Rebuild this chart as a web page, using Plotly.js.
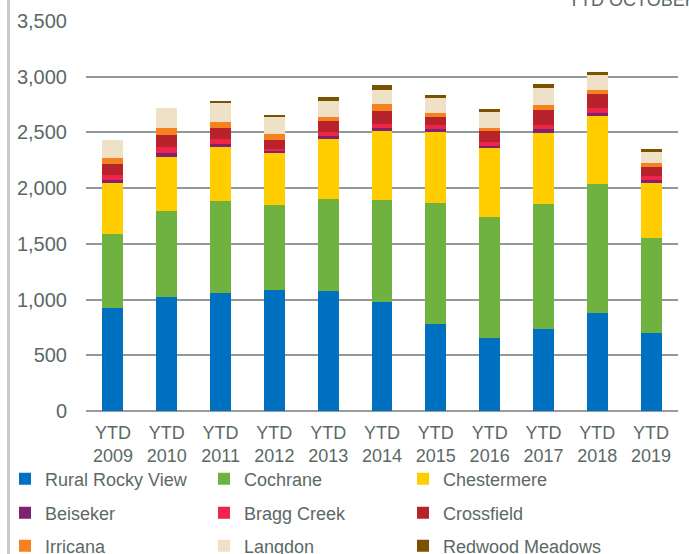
<!DOCTYPE html>
<html>
<head>
<meta charset="utf-8">
<script src="https://cdn.plot.ly/plotly-3.0.1.min.js"></script>
<style>html,body{margin:0;padding:0;background:#fff;}#chart{width:689px;height:554px;}</style>
</head>
<body>
<div id="chart"></div>
<script>
const categories = ["YTD<br>2009","YTD<br>2010","YTD<br>2011","YTD<br>2012","YTD<br>2013","YTD<br>2014","YTD<br>2015","YTD<br>2016","YTD<br>2017","YTD<br>2018","YTD<br>2019"];
const ruralRockyView = [925, 1020, 1059, 1089, 1077, 981, 784, 658, 739, 877, 703];
const cochrane       = [665, 775, 823, 762, 825, 912, 1080, 1086, 1116, 1163, 852];
const chestermere    = [457, 487, 484, 467, 539, 620, 640, 613, 643, 610, 491];
const beiseker       = [30, 30, 27, 18, 24, 24, 24, 24, 30, 21, 27];
const braggCreek     = [45, 60, 50, 18, 39, 36, 42, 33, 42, 45, 39];
const crossfield     = [95, 105, 93, 81, 99, 122, 69, 101, 135, 126, 81];
const irricana       = [57, 60, 57, 54, 36, 57, 36, 24, 42, 39, 33];
const langdon        = [160, 185, 170, 147, 141, 129, 135, 141, 150, 135, 102];
const redwoodMeadows = [0, 0, 18, 24, 42, 42, 30, 33, 39, 27, 21];
const yTicks = [0, 500, 1000, 1500, 2000, 2500, 3000, 3500];

const seriesNames = ["Rural Rocky View", "Cochrane", "Chestermere", "Beiseker", "Bragg Creek", "Crossfield", "Irricana", "Langdon", "Redwood Meadows"];
const seriesValues = [ruralRockyView, cochrane, chestermere, beiseker, braggCreek, crossfield, irricana, langdon, redwoodMeadows];
const seriesColors = ["#0070C0", "#6FB23F", "#FFCD00", "#7E2271", "#EE2449", "#B8232B", "#F5821F", "#EEE1C7", "#7A5200"];

const textColor = "#5b6965";
const font = {family: "Liberation Sans, Arial, sans-serif", size: 18, color: textColor};

const legendIds = seriesNames.map((_, i) => i === 0 ? "legend" : "legend" + (i + 1));

const traces = seriesNames.map((name, i) => ({
  type: "bar", name: name, x: categories, y: seriesValues[i],
  marker: {color: seriesColors[i], line: {width: 0}},
  legend: legendIds[i], hoverinfo: "name+y"
}));

const W = 689, H = 554, mL = 86, mR = 11, mT = 21, mB = 143;
const pw = W - mL - mR, ph = H - mT - mB;
const px2x = p => (p - mL) / pw;
const py2y = p => (H - mB - p) / ph;

const colX = [5, 204, 403];
const rowY = [479, 513, 546];

const layout = {
  width: W, height: H,
  margin: {l: mL, r: mR, t: mT, b: mB, pad: 0},
  paper_bgcolor: "#ffffff", plot_bgcolor: "#ffffff",
  font: font,
  barmode: "stack", bargap: 0.61,
  showlegend: true,
  xaxis: {
    type: "category", tickfont: font, showgrid: false, zeroline: false,
    showline: false, ticks: "outside", ticklen: 5, tickcolor: "rgba(0,0,0,0)",
    fixedrange: true
  },
  yaxis: {
    range: [0, 3500], tickvals: yTicks, tickformat: ",d",
    tickfont: {family: font.family, size: 20, color: textColor},
    showgrid: true, gridcolor: "#8e9b97", gridwidth: 2,
    zeroline: true, zerolinecolor: "#9b9b9b", zerolinewidth: 2.5,
    showline: false, ticks: "outside", ticklen: 14, tickcolor: "rgba(0,0,0,0)",
    fixedrange: true
  },
  shapes: [{
    type: "line", xref: "paper", yref: "paper",
    x0: px2x(8.5), x1: px2x(8.5), y0: py2y(-5), y1: py2y(H + 5),
    line: {color: "#c9c9c9", width: 3}
  }],
  annotations: [{
    text: "YTD OCTOBER", xref: "paper", yref: "paper",
    x: px2x(566), y: py2y(0), xanchor: "left", yanchor: "middle",
    showarrow: false, font: {family: font.family, size: 18, color: textColor}
  }]
};

legendIds.forEach((id, i) => {
  layout[id] = {
    orientation: "h", xref: "container", yref: "container",
    x: colX[i % 3] / W, y: 1 - rowY[Math.floor(i / 3)] / H,
    xanchor: "left", yanchor: "middle",
    font: font, bgcolor: "rgba(0,0,0,0)", borderwidth: 0
  };
});

Plotly.newPlot("chart", traces, layout, {displayModeBar: false, staticPlot: true});
</script>
</body>
</html>
